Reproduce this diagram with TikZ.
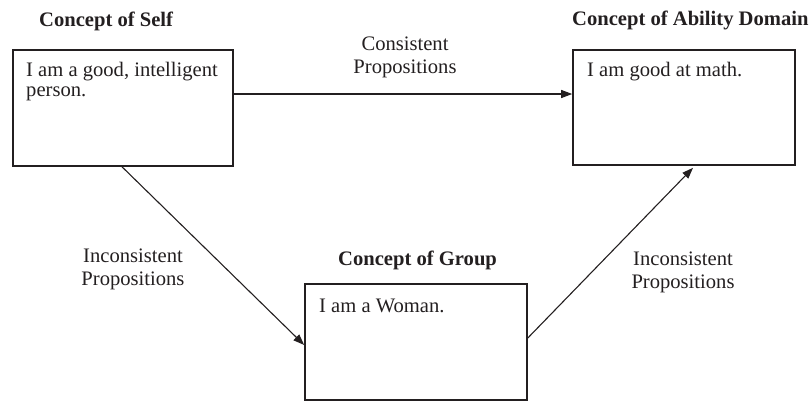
\documentclass[tikz,border=0pt]{standalone}
\usepackage{fontspec}
\setmainfont{Liberation Serif}
\usetikzlibrary{arrows.meta}
\definecolor{ink}{HTML}{231F20}
\begin{document}
\begin{tikzpicture}[x=1pt,y=-1pt,
  every node/.style={text=ink},
  box/.style={draw=ink, line width=1.6pt, inner sep=0pt, minimum width=220pt, minimum height=116pt},
  title/.style={font=\fontsize{20.6}{22}\selectfont\bfseries, anchor=base west, inner sep=0pt},
  txt/.style={font=\fontsize{20.6}{20}\selectfont, anchor=base west, inner sep=0pt, align=left},
  lbl/.style={font=\fontsize{20.6}{22.5}\selectfont, align=center, anchor=base, inner sep=0pt},
  arr/.style={draw=ink, -{Triangle[length=11pt,width=8pt]}, line width=1.1pt}]
\useasboundingbox (0,0) rectangle (810,402);
% boxes
\node[box] (self) at (123,108) {};
\node[box, minimum width=222pt, minimum height=115pt] (ability) at (684,107.5) {};
\node[box, minimum width=222pt] (group) at (416,342) {};
% titles
\node[title] (tself) at (39,26) {Concept of Self};
\node[title] (tability) at (572,25) {Concept of Ability Domain};
\node[title] (tgroup) at (338,265) {Concept of Group};
% box texts
\node[txt] (xself) at (26,96) {I am a good, intelligent\\person.};
\node[txt] (xability) at (587,76) {I am good at math.};
\node[txt] (xgroup) at (319,312) {I am a Woman.};
% labels
\node[lbl] (lcons) at (405,73) {Consistent\\Propositions};
\node[lbl] (lleft) at (133,285) {Inconsistent\\Propositions};
\node[lbl] (lright) at (683,288) {Inconsistent\\Propositions};
% arrows
\draw[arr] ([yshift=14pt]self.east) -- ([yshift=13.5pt]ability.west);
\draw[arr] ([xshift=-1pt]self.south) -- ([yshift=-3pt]group.west);
\draw[arr] ([yshift=4pt]group.east) -- ([xshift=9pt,yshift=-2pt]ability.south);
\end{tikzpicture}
\end{document}
